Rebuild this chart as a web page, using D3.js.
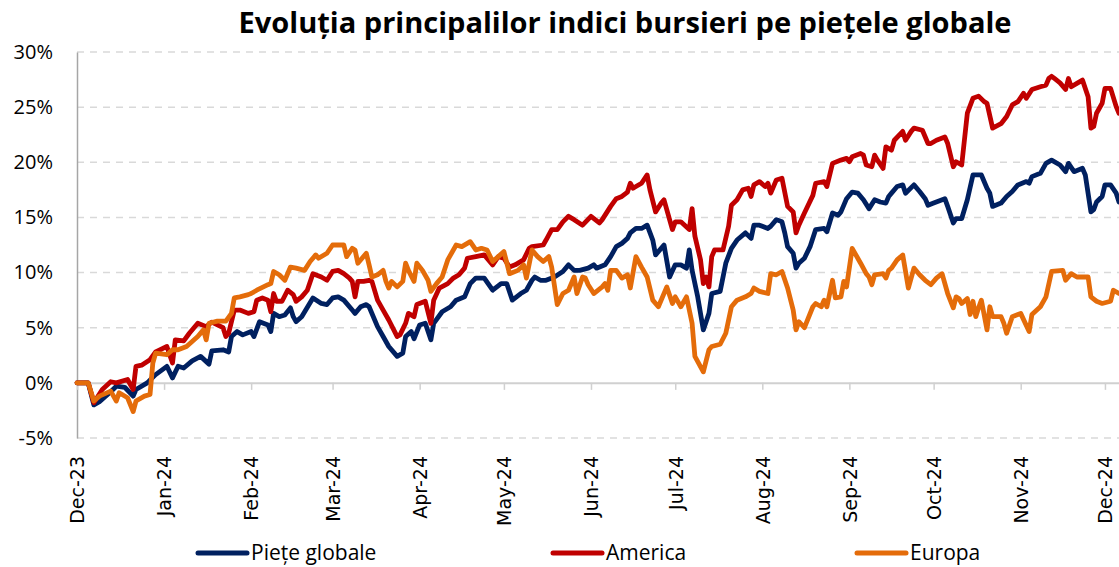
<!DOCTYPE html>
<html lang="ro">
<head>
    <meta charset="utf-8">
    <script src="https://cdnjs.cloudflare.com/ajax/libs/d3/7.8.5/d3.min.js"></script>
    <style>
        body {
            margin: 0;
            background: #fff;
        }

        .series {
            fill: none;
            stroke-width: 4.8;
            stroke-linejoin: round;
            stroke-linecap: round;
        }

        .grid line {
            stroke: #d9d9d9;
            stroke-width: 1.5;
            stroke-dasharray: 7, 6;
        }
    </style>
</head>
<body>
<script>

    // days counted from 29 Dec 2023, value in %
    let pieteGlobale = [[0,0],[4,0],[6,-2.0],[8,-1.7],[12,-0.8],[14,-0.3],[17,-0.4],[20,-1.2],[21,-0.6],[25,0],[28,0.75],[32,1.5],[34,0.45],[36,1.5],[38,1.35],[41,2.0],[44,2.4],[47,1.7],[48,2.9],[52,3.0],[54,2.8],[55,4.2],[57,4.65],[59,4.35],[62,4.65],[63,4.2],[65,5.55],[68,5.25],[69,4.65],[70,6.3],[72,6.0],[74,6.15],[76,6.8],[77,6.0],[78,5.55],[80,6.0],[84,7.7],[87,7.2],[89,7.1],[91,7.7],[93,7.8],[95,7.5],[98,6.6],[99,6.3],[101,6.9],[103,7.1],[104,6.9],[107,5.1],[109,4.2],[111,3.3],[114,2.4],[116,2.7],[117,4.2],[119,4.65],[120,4.0],[122,5.25],[124,5.4],[126,3.9],[127,5.4],[130,6.45],[133,6.9],[135,7.5],[138,7.8],[140,9.0],[142,9.5],[145,9.5],[148,8.4],[151,9.0],[153,9.0],[155,7.5],[158,8.1],[160,8.4],[162,9.3],[163,9.6],[165,9.3],[167,9.3],[170,9.6],[173,10.1],[175,10.7],[177,10.2],[179,10.2],[182,10.4],[184,10.7],[185,10.4],[188,10.7],[190,11.45],[192,12.35],[194,12.65],[196,13.1],[197,13.6],[199,14.0],[201,14.0],[203,14.3],[205,12.95],[206,11.6],[209,12.5],[211,9.6],[213,10.7],[215,10.7],[217,10.4],[218,12.05],[219,10.2],[221,7.8],[223,4.8],[225,6.3],[226,8.1],[229,8.3],[231,10.85],[233,12.2],[235,12.95],[238,13.6],[240,13.1],[241,14.3],[243,14.3],[246,14.0],[247,14.2],[249,14.8],[251,14.6],[252,13.6],[253,12.35],[255,11.75],[256,10.4],[257,10.85],[259,11.3],[261,12.35],[263,13.9],[266,14.0],[267,13.7],[269,15.4],[271,15.2],[272,15.5],[274,16.7],[276,17.3],[278,17.2],[280,16.6],[282,15.8],[284,16.6],[286,16.4],[288,16.3],[289,16.9],[290,17.2],[292,17.8],[294,17.95],[295,17.2],[298,17.95],[300,17.35],[302,16.7],[303,16.1],[305,16.3],[309,16.7],[310,16.0],[312,14.5],[313,14.9],[315,14.9],[317,16.6],[319,18.85],[322,18.85],[324,17.65],[325,17.2],[326,16.0],[329,16.3],[331,16.9],[333,17.35],[335,17.95],[338,18.25],[339,18.1],[340,18.7],[343,19.0],[345,19.9],[347,20.2],[350,19.75],[352,19.15],[353,19.9],[355,19.15],[358,19.45],[359,18.85],[361,15.5],[362,15.7],[363,16.4],[365,16.9],[366,17.95],[368,17.95],[370,17.2],[371,16.4]];

    let america = [[0,0],[4,0],[6,-1.8],[9,-0.6],[12,0.1],[14,0],[18,0.3],[20,-0.6],[21,1.5],[23,1.6],[26,2.1],[28,2.8],[32,3.3],[34,1.8],[35,3.9],[38,3.8],[40,4.5],[43,5.4],[46,5.1],[48,5.5],[52,5.0],[53,4.2],[54,4.5],[56,6.6],[58,6.6],[61,6.3],[63,6.45],[64,7.5],[66,7.7],[68,7.5],[69,6.45],[70,8.1],[71,7.4],[73,7.4],[75,8.4],[77,8.0],[78,7.4],[80,7.8],[82,8.4],[84,9.9],[87,9.6],[89,9.3],[91,10.1],[93,10.2],[95,9.9],[97,9.5],[98,9.2],[99,7.8],[100,9.2],[102,9.2],[104,9.3],[105,9.2],[107,7.5],[109,6.6],[111,5.7],[114,4.2],[115,4.35],[117,5.4],[118,6.3],[120,6.0],[121,7.1],[124,7.4],[126,5.4],[127,7.5],[129,8.6],[132,9.0],[134,9.5],[136,9.8],[138,10.4],[139,11.3],[142,11.45],[145,11.6],[148,10.7],[150,11.45],[152,11.3],[154,10.5],[156,10.7],[159,11.15],[161,12.2],[162,12.35],[166,12.5],[167,12.95],[169,13.9],[171,13.9],[173,14.6],[175,15.1],[177,14.8],[180,14.3],[183,15.1],[186,14.5],[187,14.8],[190,16.0],[192,16.7],[194,16.9],[196,17.3],[197,18.1],[198,17.65],[199,17.8],[201,18.1],[203,18.85],[204,17.5],[206,15.5],[208,16.3],[209,16.6],[212,13.9],[213,14.6],[215,14.6],[218,13.9],[219,15.8],[220,13.3],[222,11.15],[223,9.0],[224,9.6],[225,8.7],[226,11.45],[227,12.05],[230,12.05],[232,14.2],[233,16.1],[235,16.6],[237,17.5],[239,17.65],[240,16.9],[241,17.95],[243,18.25],[245,17.8],[246,18.1],[247,17.2],[249,18.4],[251,18.55],[253,16.0],[255,15.5],[256,13.6],[257,14.3],[259,15.4],[262,17.0],[263,18.1],[266,18.25],[267,17.8],[269,19.9],[272,20.2],[274,20.35],[275,20.05],[276,20.5],[279,20.8],[280,20.65],[281,19.75],[283,19.6],[284,20.65],[285,20.2],[287,19.45],[288,21.4],[290,21.1],[291,22.0],[294,22.8],[295,22.0],[297,22.8],[298,23.1],[301,22.9],[303,21.7],[304,21.7],[306,22.0],[309,22.3],[310,21.7],[312,19.6],[313,20.05],[315,19.75],[317,24.45],[319,25.8],[321,26.0],[323,25.5],[324,25.35],[326,23.1],[329,23.5],[331,24.15],[333,25.2],[335,25.5],[337,26.25],[338,25.8],[340,26.6],[343,26.85],[345,27.0],[346,27.6],[347,27.8],[348,27.6],[350,27.2],[352,26.6],[353,27.6],[354,26.85],[356,27.15],[358,27.45],[360,25.95],[361,23.1],[362,23.25],[363,24.45],[365,25.35],[366,26.7],[368,26.7],[370,25.05],[371,24.45]];

    let europa = [[0,0],[4,0],[6,-1.65],[8,-1.2],[12,-0.75],[14,-1.65],[15,-0.9],[18,-1.35],[20,-2.6],[21,-1.65],[24,-1.2],[26,-1.05],[27,1.8],[28,2.7],[32,2.55],[34,3.0],[36,3.0],[39,3.3],[43,4.2],[45,4.8],[46,3.9],[47,5.4],[50,5.6],[53,5.6],[55,6.3],[56,7.7],[58,7.8],[61,8.0],[62,8.1],[64,8.4],[68,8.9],[69,9.0],[70,10.1],[72,9.8],[74,9.3],[76,10.5],[78,10.4],[81,10.2],[83,11.0],[85,11.6],[86,11.3],[89,11.75],[91,12.5],[95,12.5],[96,11.45],[98,12.2],[99,12.05],[100,10.85],[103,11.75],[104,10.7],[105,9.6],[107,9.8],[109,10.2],[110,9.2],[111,8.6],[112,9.2],[114,8.7],[116,9.2],[117,10.85],[118,10.2],[120,9.2],[121,10.85],[123,10.2],[125,9.3],[126,8.3],[128,9.0],[130,9.6],[132,11.15],[135,12.5],[137,12.35],[140,12.8],[142,12.05],[144,12.2],[146,12.05],[148,11.0],[150,11.45],[152,11.9],[154,9.9],[157,10.2],[159,10.7],[160,9.5],[162,12.05],[164,11.45],[166,11.0],[168,11.45],[169,10.5],[171,7.1],[173,8.1],[175,8.4],[177,9.6],[178,8.1],[180,9.6],[181,9.5],[182,8.9],[184,8.1],[187,8.7],[188,9.0],[189,8.4],[190,10.2],[192,10.2],[194,9.5],[196,9.8],[197,8.6],[199,11.45],[201,10.5],[203,9.6],[205,7.5],[207,6.9],[210,8.7],[212,7.2],[213,7.8],[215,6.9],[217,7.8],[219,5.4],[220,2.4],[223,1.0],[225,3.0],[226,3.3],[229,3.5],[231,4.5],[233,6.9],[235,7.5],[238,7.8],[240,8.1],[241,8.6],[243,8.3],[246,8.1],[247,9.9],[249,9.8],[251,10.1],[253,8.6],[255,6.6],[256,4.8],[257,5.55],[259,5.0],[262,6.9],[263,7.2],[265,6.9],[266,7.5],[267,6.9],[269,9.3],[270,7.7],[272,7.8],[273,9.2],[274,8.7],[276,12.2],[279,10.85],[281,9.9],[282,9.6],[283,8.9],[284,9.8],[287,9.9],[288,9.5],[289,10.2],[290,10.4],[292,11.15],[294,11.6],[296,8.6],[298,10.4],[300,9.8],[302,9.3],[304,8.9],[306,9.5],[308,9.9],[310,8.1],[312,6.8],[313,7.8],[314,7.65],[315,7.2],[317,7.65],[318,6.2],[319,7.4],[320,6.0],[321,6.8],[322,7.5],[324,4.8],[325,6.9],[326,6.0],[329,6.0],[330,5.4],[331,4.5],[333,6.0],[335,6.2],[336,6.3],[339,4.65],[340,6.2],[343,6.9],[345,7.8],[347,10.1],[351,10.2],[352,9.3],[354,9.9],[356,9.6],[360,9.6],[361,7.8],[363,7.4],[365,7.2],[368,7.4],[369,8.4],[371,8.1]];

    let seriesNames = ['Piețe globale', 'America', 'Europa'];
    let seriesColors = ['#002060', '#C00000', '#E46C0A'];

    let yTicks = [-5, 0, 5, 10, 15, 20, 25, 30];
    let xTickDates = ['2023-12-29', '2024-01-29', '2024-02-29', '2024-03-29', '2024-04-29', '2024-05-29',
        '2024-06-29', '2024-07-29', '2024-08-29', '2024-09-29', '2024-10-29', '2024-11-29', '2024-12-29'];
    let xTickLabels = ['Dec-23', 'Jan-24', 'Feb-24', 'Mar-24', 'Apr-24', 'May-24',
        'Jun-24', 'Jul-24', 'Aug-24', 'Sep-24', 'Oct-24', 'Nov-24', 'Dec-24'];

    let title = 'Evoluția principalilor indici bursieri pe piețele globale';

    let startDay = new Date(2023, 11, 29);
    let parse = d3.timeParse('%Y-%m-%d');

    let svg = d3.select('body').append('svg')
        .attr('width', 1119).attr('height', 567);

    let x = d3.scaleTime()
        .domain([startDay, new Date(2025, 0, 3)])
        .range([77, 1119]);
    let y = d3.scaleLinear()
        .domain([-5, 30])
        .range([438, 52]);

    // title
    svg.append('text')
        .attr('x', 625).attr('y', 33)
        .attr('text-anchor', 'middle')
        .attr('textLength', 773)
        .attr('lengthAdjust', 'spacingAndGlyphs')
        .style('font-family', '"Open Sans", sans-serif')
        .style('font-weight', 'bold')
        .style('font-size', '28px')
        .style('fill', '#000')
        .text(title);

    // dashed grid
    svg.append('g').attr('class', 'grid').selectAll('line')
        .data(yTicks.filter(d => d !== 0))
        .enter().append('line')
        .attr('x1', 77).attr('x2', 1119)
        .attr('y1', d => y(d)).attr('y2', d => y(d));

    // y axis
    let yAxis = svg.append('g')
        .attr('transform', 'translate(77,0)')
        .call(d3.axisLeft(y).tickValues(yTicks).tickFormat(d => d + '%').tickSize(0).tickPadding(24));
    yAxis.select('.domain').attr('stroke', '#a6a6a6').attr('stroke-width', 1.5);
    yAxis.selectAll('text')
        .style('font-family', '"Open Sans", sans-serif')
        .style('font-size', '20px')
        .style('fill', '#000');

    // x axis on the zero line
    let xAxis = svg.append('g')
        .attr('transform', 'translate(0,' + y(0) + ')')
        .call(d3.axisBottom(x)
            .tickValues(xTickDates.map(parse))
            .tickFormat((d, i) => xTickLabels[i])
            .tickSize(7).tickSizeOuter(0));
    xAxis.select('.domain').attr('stroke', '#d0d0d0').attr('stroke-width', 2);
    xAxis.selectAll('.tick line').attr('stroke', '#d0d0d0').attr('stroke-width', 1.5);
    xAxis.selectAll('text')
        .attr('transform', 'rotate(-90)')
        .attr('text-anchor', 'end')
        .attr('x', -(456 - y(0)))
        .attr('y', 0)
        .attr('dy', '0.36em')
        .style('font-family', '"DejaVu Sans", Verdana, sans-serif')
        .style('font-size', '19px')
        .style('fill', '#000');

    let line = d3.line()
        .x(d => x(d3.timeDay.offset(startDay, d[0])))
        .y(d => y(d[1]));

    let allSeries = [pieteGlobale, america, europa];

    svg.append('g').selectAll('path')
        .data(allSeries)
        .enter().append('path')
        .attr('class', 'series')
        .attr('stroke', (d, i) => seriesColors[i])
        .attr('d', line);

    // legend
    let legendX = [198, 553, 857];
    let legend = svg.append('g').selectAll('g')
        .data(seriesNames)
        .enter().append('g')
        .attr('transform', (d, i) => 'translate(' + legendX[i] + ',553)');
    legend.append('line')
        .attr('x1', 0).attr('x2', 49)
        .attr('stroke', (d, i) => seriesColors[i])
        .attr('stroke-width', 5)
        .attr('stroke-linecap', 'round');
    legend.append('text')
        .attr('x', 53).attr('y', 7)
        .style('font-family', '"Open Sans", sans-serif')
        .style('font-size', '21px')
        .style('fill', '#000')
        .text(d => d);

</script>
</body>
</html>
